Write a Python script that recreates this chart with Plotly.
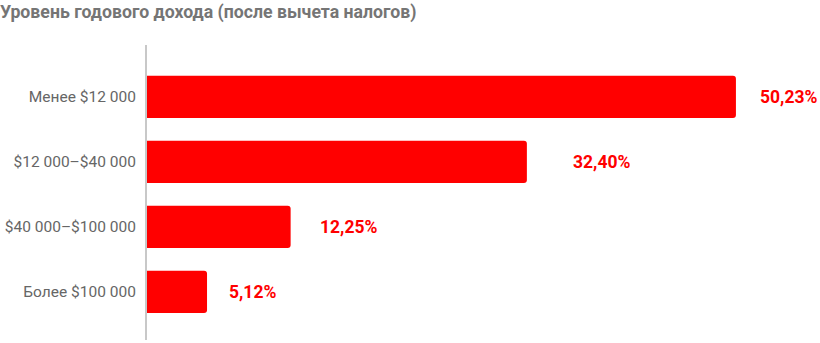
import plotly.graph_objects as go

categories = ["Менее $12 000", "$12 000–$40 000", "$40 000–$100 000", "Более $100 000"]
values = [50.23, 32.40, 12.25, 5.12]
labels = ["50,23%", "32,40%", "12,25%", "5,12%"]
label_shifts = [22, 44, 27, 20]

RED = "#ff0000"

fig = go.Figure()
fig.add_trace(go.Bar(
    y=categories, x=values, orientation="h",
    marker=dict(color=RED, line=dict(width=0)),
    hoverinfo="skip",
))

for c, v, t, s in zip(categories, values, labels, label_shifts):
    fig.add_annotation(x=v, y=c, text=t, showarrow=False, xanchor="left",
                       xshift=s, font=dict(family="Roboto", size=17.5, color=RED, weight="bold"))

fig.update_layout(
    width=820, height=343,
    margin=dict(l=147, r=0, t=45, b=3),
    paper_bgcolor="white", plot_bgcolor="white",
    bargap=0.35, barcornerradius=3,
    showlegend=False,
    title=dict(text="<b>Уровень годового дохода (после вычета налогов)</b>",
               x=0.0, xanchor="left", y=0.985, yanchor="top",
               font=dict(family="Roboto", size=17.7, color="#757575")),
    font=dict(family="Roboto"),
)
fig.update_xaxes(range=[0, 57.4], visible=False, showgrid=False, zeroline=False)
fig.update_yaxes(range=[3.74, -0.8], showgrid=False, zeroline=False,
                 showline=True, linecolor="#c8c8c8", linewidth=2,
                 ticks="", ticklabelstandoff=6,
                 tickfont=dict(family="Roboto", size=15.5, color="#666666"))

fig.write_html("out.html")
